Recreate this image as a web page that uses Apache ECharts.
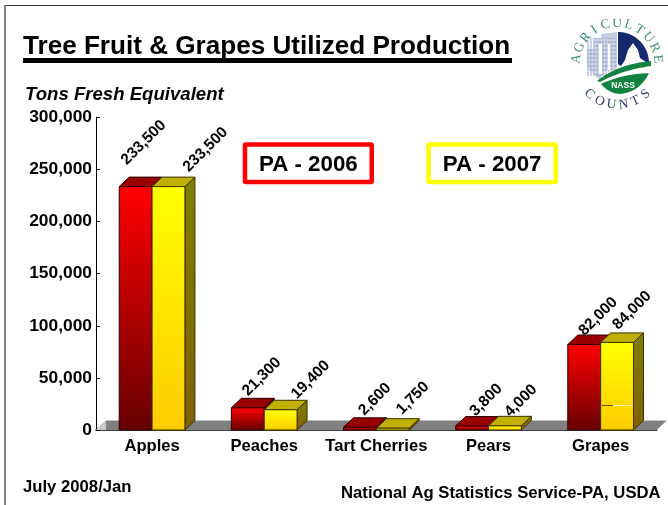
<!DOCTYPE html>
<html><head><meta charset="utf-8">
<style>html,body{margin:0;padding:0;background:#fff}#c{width:668px;height:505px}</style>
<script src="https://cdn.jsdelivr.net/npm/echarts@6/dist/echarts.min.js"></script></head>
<body><div id="c"></div>
<script>
const categories = ['Apples','Peaches','Tart Cherries','Pears','Grapes'];
const values2006 = [233500,21300,2600,3800,82000];
const values2007 = [233500,19400,1750,4000,84000];
const yTicks = [0,50000,100000,150000,200000,250000,300000];
const FONT = '"Liberation Sans", Arial, sans-serif';
// label placement relative to each bar's top centre (hand-placed in the original)
const nudge2006 = [[8,-44],[14,-31],[15,-28],[14,-26],[14,-28]];
const nudge2007 = [[37,-37],[30,-30],[20,-30],[16,-25],[15,-32]];

const chart = echarts.init(document.getElementById('c'), null, {renderer:'canvas'});
const DX = 10, DY = 9.5;

function barSeries(name, values, side, nudge, c) {
  return {
    type:'custom', name, z:3,
    data: values.map((v,i)=>[categories[i], v]),
    encode:{x:0,y:1},
    renderItem(params, api) {
      const base = api.coord([api.value(0), 0]);
      const top = api.coord([api.value(0), api.value(1)]);
      const bw = api.size([1,0])[0] * 0.293;
      const x0 = side < 0 ? base[0]-bw : base[0];
      const x1 = x0 + bw, y0 = top[1], y1 = base[1];
      const n = nudge[params.dataIndex];
      const stroke = c.line;
      return {type:'group', children:[
        {type:'polygon', shape:{points:[[x1,y0],[x1+DX,y0-DY],[x1+DX,y1-DY],[x1,y1]]},
         style:{fill:{type:'linear',x:0,y:0,x2:0,y2:1,colorStops:[{offset:0,color:c.side[0]},{offset:1,color:c.side[1]}]},stroke,lineWidth:1}},
        {type:'polygon', shape:{points:[[x0,y0],[x0+DX,y0-DY],[x1+DX,y0-DY],[x1,y0]]},
         style:{fill:c.top,stroke,lineWidth:1}},
        {type:'rect', shape:{x:x0,y:y0,width:bw,height:y1-y0},
         style:{fill:{type:'linear',x:0,y:0,x2:0,y2:1,colorStops:[{offset:0,color:c.front[0]},{offset:1,color:c.front[1]}]},stroke,lineWidth:1}},
        {type:'text', x:(x0+x1)/2+n[0], y:y0+n[1], rotation:Math.PI/4, z2:50,
         style:{text:echarts.format.addCommas(api.value(1)),x:0,y:0,align:'center',verticalAlign:'middle',
                font:'bold 15.5px '+FONT,fill:'#000'}}
      ]};
    }
  };
}

const logo = [];
(function(){
  const cx=618, cy=63, r=31;
  const arc=(a0,a1,n)=>{const p=[];for(let i=0;i<=n;i++){const a=(a0+(a1-a0)*i/n)*Math.PI/180;p.push([cx+r*Math.sin(a),cy-r*Math.cos(a)]);}return p;};
  const quad=(p0,p1,p2,n)=>{const p=[];for(let i=0;i<=n;i++){const t=i/n,u=1-t;p.push([u*u*p0[0]+2*u*t*p1[0]+t*t*p2[0],u*u*p0[1]+2*u*t*p1[1]+t*t*p2[1]]);}return p;};
  // buildings, left half
  logo.push({type:'polygon',shape:{points:[[587,68],[587,49],[594,49],[594,38],[601,38],[601,34],[617,32],[617,70],[605,70],[600,80]]},style:{fill:'#c3cce0'}});
  for(let x=588;x<617;x+=3) logo.push({type:'line',shape:{x1:x,y1:38,x2:x,y2:76},style:{stroke:'#8f9dc4',lineWidth:1}});
  for(let y=40;y<76;y+=4) logo.push({type:'line',shape:{x1:587,y1:y,x2:617,y2:y},style:{stroke:'#dfe4ef',lineWidth:1}});
  logo.push({type:'rect',shape:{x:599,y:44,width:3,height:30},style:{fill:'#fff'}});
  logo.push({type:'rect',shape:{x:608,y:44,width:2,height:26},style:{fill:'#fff'}});
  // navy sky, right half
  logo.push({type:'polygon',shape:{points:[[618,64],[618,32]].concat(arc(2,92,14)).concat([[640,58],[638,50],[633,43],[628,50],[625,60],[621,66]])},style:{fill:'#16296f'}});
  // green swoosh and lens
  logo.push({type:'polygon',shape:{points:quad([597,81],[618,64],[651,61],16).concat(quad([651,66],[622,70],[600,82],16))},style:{fill:'#12823f'}});
  logo.push({type:'polygon',shape:{points:quad([601,84],[622,74],[650,73],14).concat(quad([649,73],[640,92],[620,94],10)).concat(quad([620,94],[608,93],[601,84],6))},style:{fill:'#12823f'}});
  logo.push({type:'text',style:{text:'NASS',x:623,y:86,align:'center',verticalAlign:'middle',font:'bold 8.5px '+FONT,fill:'#fff'}});
  const top='AGRICULTURE';
  top.split('').forEach((ch,i)=>{const th=(-83+i*16.6)*Math.PI/180,R=41;
    logo.push({type:'text',x:cx-1+R*Math.sin(th),y:cy+1-R*Math.cos(th),rotation:-th,
      style:{text:ch,x:0,y:0,align:'center',verticalAlign:'middle',font:'13.5px "Liberation Serif", serif',fill:'#3f8f7d'}});});
  'COUNTS'.split('').forEach((ch,i)=>{const ph=(-42+i*16.8)*Math.PI/180,R=42;
    logo.push({type:'text',x:cx-0.5+R*Math.sin(ph),y:cy+R*Math.cos(ph),rotation:ph,
      style:{text:ch,x:0,y:0,align:'center',verticalAlign:'middle',font:'13.5px "Liberation Serif", serif',fill:'#2f4474'}});});
})();

function legendBox(x,w,color,text){
  return [
    {type:'rect',shape:{x:x+2.25,y:144.5,width:w-4.5,height:37.5,r:1},style:{fill:'#fff',stroke:color,lineWidth:4.5}},
    {type:'text',style:{text,x:x+w/2,y:165,align:'center',verticalAlign:'middle',font:'bold 22.3px '+FONT,fill:'#000'}}
  ];
}

chart.setOption({
  animation:false,
  backgroundColor:'#fff',
  title:{text:'Tree Fruit & Grapes Utilized Production',left:23,top:34,padding:0,
    textStyle:{fontFamily:FONT,fontWeight:'bold',fontSize:26.1,color:'#000'}},
  grid:{left:96,right:11.3,top:117.3,height:312.7,containLabel:false},
  xAxis:{type:'category',data:categories,
    axisLine:{onZero:false,lineStyle:{color:'#000',width:1.5}},axisTick:{show:false},
    axisLabel:{margin:8,color:'#000',fontFamily:FONT,fontWeight:'bold',fontSize:16.6,interval:0}},
  yAxis:{type:'value',min:yTicks[0],max:yTicks[yTicks.length-1],interval:yTicks[1]-yTicks[0],
    splitLine:{show:false},
    axisLine:{show:true,lineStyle:{color:'#000',width:1}},
    axisTick:{show:true,inside:true,length:4,lineStyle:{color:'#000',width:1}},
    axisLabel:{margin:4,color:'#000',fontFamily:FONT,fontWeight:'bold',fontSize:17.4,
      formatter:v=>echarts.format.addCommas(v)}},
  series:[
    {type:'custom',name:'floor',z:1,silent:true,data:[[categories[0],0]],encode:{x:0,y:1},
     renderItem(params,api){
       const g=params.coordSys, y=g.y+g.height;
       return {type:'group',children:[
         {type:'polygon',shape:{points:[[g.x,y],[g.x+DX,y-DY],[g.x+g.width+DX,y-DY],[g.x+g.width,y]]},style:{fill:'#808080'}},
         {type:'polygon',shape:{points:[[g.x,y],[g.x+DX,y-DY],[g.x+DX,y]]},style:{fill:'#c8c8c8'}}
       ]};
     }},
    barSeries('PA - 2006',values2006,-1,nudge2006,{front:['#ff0000','#660000'],top:'#990000',side:['#800000','#400000'],line:'#2a0000'}),
    barSeries('PA - 2007',values2007,1,nudge2007,{front:['#ffff00','#ffcc00'],top:'#c0b000',side:['#808000','#806000'],line:'#3a3000'})
  ],
  graphic:{elements:[
    {type:'line',shape:{x1:5.5,y1:5.5,x2:668,y2:5.5},style:{stroke:'#333',lineWidth:1}},
    {type:'line',shape:{x1:5,y1:5,x2:5,y2:505},style:{stroke:'#555',lineWidth:1.5}},
    {type:'rect',shape:{x:23,y:58,width:489,height:5},style:{fill:'#000'}},
    {type:'text',style:{text:'Tons Fresh Equivalent',x:25,y:95,verticalAlign:'middle',font:'italic bold 18.6px '+FONT,fill:'#000'}},
    {type:'text',style:{text:'July 2008/Jan',x:23,y:487,verticalAlign:'middle',font:'bold 16.7px '+FONT,fill:'#000'}},
    {type:'text',style:{text:'National Ag Statistics Service-PA, USDA',x:341,y:493,verticalAlign:'middle',font:'bold 16.7px '+FONT,fill:'#000'}},
    {type:'line',shape:{x1:602,y1:405.5,x2:613,y2:405.5},z:20,style:{stroke:'#7a4a00',lineWidth:1}},
    {type:'line',shape:{x1:613,y1:405.5,x2:633,y2:405.5},z:20,style:{stroke:'#fff2b0',lineWidth:1}}
  ].concat(legendBox(242.7,131.3,'#ff0000','PA - 2006'))
   .concat(legendBox(426.3,131.7,'#ffff00','PA - 2007'))
   .concat(logo)}
});
</script></body></html>
